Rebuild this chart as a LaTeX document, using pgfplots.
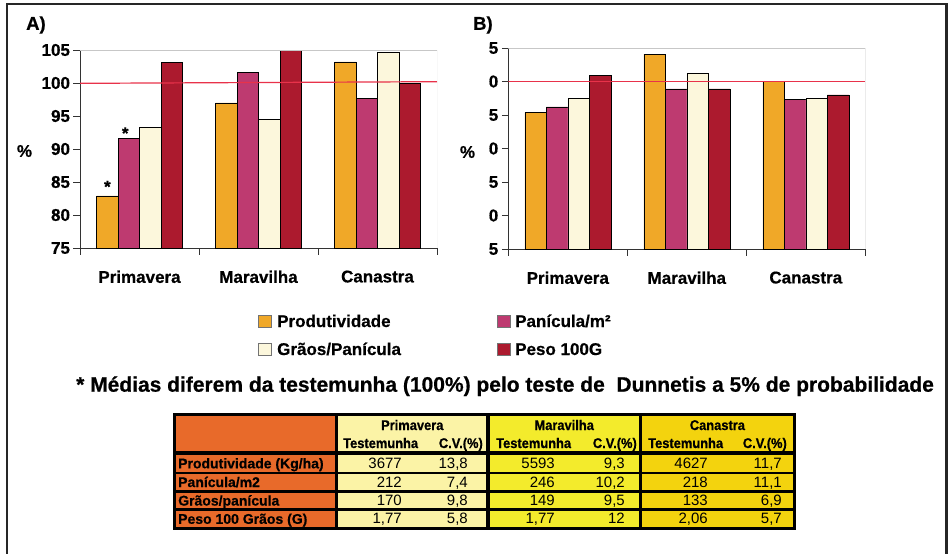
\documentclass[border=0pt]{standalone}
\usepackage{fontspec}
\setmainfont{Liberation Sans}[BoldFeatures={FakeBold=0.6}]
\newfontfamily\narrowfont{Liberation Sans}[FakeStretch=0.92, BoldFeatures={FakeBold=0.6}]
\usepackage{pgfplots}
\pgfplotsset{compat=1.18}

\definecolor{cProd}{HTML}{F0A828}
\definecolor{cPan}{HTML}{BE3A70}
\definecolor{cGrao}{HTML}{FCF7DC}
\definecolor{cPeso}{HTML}{AC1A2E}
\definecolor{refline}{HTML}{E8324A}
\definecolor{tabOrange}{HTML}{E86A2A}
\definecolor{tabPrim}{HTML}{FBF3A6}
\definecolor{tabMara}{HTML}{F3EB2C}
\definecolor{tabCana}{HTML}{F3D30E}

\pgfplotsset{
  barchart/.style={
    scale only axis, anchor=south west,
    width=357pt,
    xmin=-0.5, xmax=2.5, enlargelimits=false,
    ybar=0pt, bar width=21.5pt,
    axis x line*=bottom, axis y line*=left,
    axis line style={black!80, line width=0.8pt},
    xtick={-0.5,0.5,1.5,2.5}, xticklabels={},
    extra x ticks={0,1,2},
    extra x tick labels={Primavera,Maravilha,Canastra},
    extra x tick style={major tick length=0pt,
      tick label style={yshift=-19pt}},
    tick align=outside, major tick length=6.5pt,
    tick style={black!80, line width=0.8pt},
    tick label style={font=\bfseries\fontsize{17}{17}\selectfont},
    /pgf/number format/assume math mode=true,
    every axis plot/.append style={draw=black, line width=0.6pt},
  },
}

% one row of the table: baseline y, label, then Testemunha / C.V. pairs
\newcommand{\trow}[8]{%
  \node[lab] at (178pt,-#1pt) {#2};
  \node[val] at (402pt,-#1pt) {#3};
  \node[val] at (468pt,-#1pt) {#4};
  \node[val] at (555pt,-#1pt) {#5};
  \node[val] at (625pt,-#1pt) {#6};
  \node[val] at (708pt,-#1pt) {#7};
  \node[val] at (782pt,-#1pt) {#8};
}

\begin{document}
\begin{tikzpicture}[
    lab/.style={anchor=base west, inner sep=0pt, font=\bfseries\fontsize{14}{14}\selectfont},
    val/.style={anchor=base east, inner sep=0pt, font=\fontsize{15}{15}\selectfont},
    hd/.style={anchor=base, inner sep=0pt, font=\narrowfont\bfseries\fontsize{14}{14}\selectfont},
  ]
\useasboundingbox (0,0) rectangle (948pt,-554pt);
\draw[line width=2.4pt, black!85] (7pt,-4pt) rectangle (946.5pt,-570pt);

% ---------- A) ----------
\begin{axis}[barchart, at={(80pt,-248pt)}, height=198pt,
    ymin=75, ymax=105, ytick={75,80,...,105}]
  \addplot[fill=cProd] coordinates {(0,82.9) (1,97.0) (2,103.2)};
  \addplot[fill=cPan]  coordinates {(0,91.6) (1,101.6) (2,97.7)};
  \addplot[fill=cGrao] coordinates {(0,93.25) (1,94.5) (2,104.65)};
  \addplot[fill=cPeso] coordinates {(0,103.1) (1,105.0) (2,100.0)};
  \draw[refline, line width=1.2pt] (axis cs:-0.5,99.95) -- (axis cs:2.5,100.2);
  \draw[black!22, line width=0.8pt] (rel axis cs:0,1) -- (rel axis cs:1,1) -- (rel axis cs:1,0);
  \node[font=\bfseries\fontsize{17}{17}\selectfont] at (axis cs:-0.27,84.9) [yshift=-4pt] {*};
  \node[font=\bfseries\fontsize{17}{17}\selectfont] at (axis cs:-0.12,93.0) [yshift=-4pt] {*};
\end{axis}

% ---------- B) ----------
\begin{axis}[barchart, at={(508.3pt,-249pt)}, height=201pt,
    ymin=85, ymax=115, ytick={85,90,...,115},
    yticklabels={5,0,5,0,5,0,5}]
  \addplot[fill=cProd] coordinates {(0,105.4) (1,114.1) (2,110.0)};
  \addplot[fill=cPan]  coordinates {(0,106.2) (1,108.9) (2,107.3)};
  \addplot[fill=cGrao] coordinates {(0,107.5) (1,111.2) (2,107.5)};
  \addplot[fill=cPeso] coordinates {(0,110.9) (1,108.9) (2,108.0)};
  \draw[refline, line width=1.2pt] (axis cs:-0.5,110) -- (axis cs:2.5,110);
  \draw[black!22, line width=0.8pt] (rel axis cs:0,1) -- (rel axis cs:1,1) -- (rel axis cs:1,0);
\end{axis}

% panel letters and y labels
\node[anchor=west, inner sep=0pt, font=\bfseries\fontsize{18.5}{19}\selectfont] at (26pt,-25pt) {A)};
\node[anchor=west, inner sep=0pt, font=\bfseries\fontsize{18.5}{19}\selectfont] at (473pt,-25pt) {B)};
\node[font=\bfseries\fontsize{17}{17}\selectfont] at (24.5pt,-151pt) {\%};
\node[font=\bfseries\fontsize{17}{17}\selectfont] at (467.5pt,-152pt) {\%};

% legend
\begin{scope}[every node/.style={anchor=base west, inner sep=0pt, font=\bfseries\fontsize{17}{17}\selectfont}]
  \draw[black!55, line width=0.8pt, fill=cProd] (258pt,-315pt) rectangle (271pt,-327pt);
  \node at (277pt,-327pt) {Produtividade};
  \draw[black!55, line width=0.8pt, fill=cPan] (497pt,-315pt) rectangle (510pt,-327pt);
  \node at (515pt,-327pt) {Panícula/m²};
  \draw[black!55, line width=0.8pt, fill=cGrao] (258pt,-343pt) rectangle (271pt,-355pt);
  \node at (277pt,-355pt) {Grãos/Panícula};
  \draw[black!55, line width=0.8pt, fill=cPeso] (497pt,-343pt) rectangle (510pt,-355pt);
  \node at (515pt,-355pt) {Peso 100G};
\end{scope}

% footnote
\node[anchor=base west, inner sep=0pt, font=\bfseries\fontsize{21}{21}\selectfont]
  at (76pt,-391.7pt) {* Médias diferem da testemunha (100\%) pelo teste de~ Dunnetis a 5\% de probabilidade};

% ---------- table ----------
\fill[black] (172.5pt,-413pt) rectangle (796pt,-530pt);
\foreach \xa/\xb/\c in {175.7/335/tabOrange, 338.3/486.3/tabPrim, 489.8/638.5/tabMara, 642/792.8/tabCana}{
  \fill[\c] (\xa pt,-416pt) rectangle (\xb pt,-450.7pt);
  \foreach \ya/\yb in {455/471.7, 474/490, 492.7/508.3, 511/526.7}{
    \fill[\c] (\xa pt,-\ya pt) rectangle (\xb pt,-\yb pt);
  }
}
\node[hd] at (412.3pt,-430pt) {Primavera};
\node[hd] at (564.2pt,-430pt) {Maravilha};
\node[hd] at (717.4pt,-430pt) {Canastra};
\foreach \xl/\xr in {343/483, 496/637, 648/787}{
  \node[hd, anchor=base west] at (\xl pt,-448pt) {Testemunha};
  \node[hd, anchor=base east] at (\xr pt,-448pt) {C.V.(\%)};
}
\trow{468.3}{Produtividade (Kg/ha)}{3677}{13,8}{5593}{9,3}{4627}{11,7}
\trow{487}{Panícula/m2}{212}{7,4}{246}{10,2}{218}{11,1}
\trow{505.5}{Grãos/panícula}{170}{9,8}{149}{9,5}{133}{6,9}
\trow{523.8}{Peso 100 Grãos (G)}{1,77}{5,8}{1,77}{12}{2,06}{5,7}
\end{tikzpicture}
\end{document}
